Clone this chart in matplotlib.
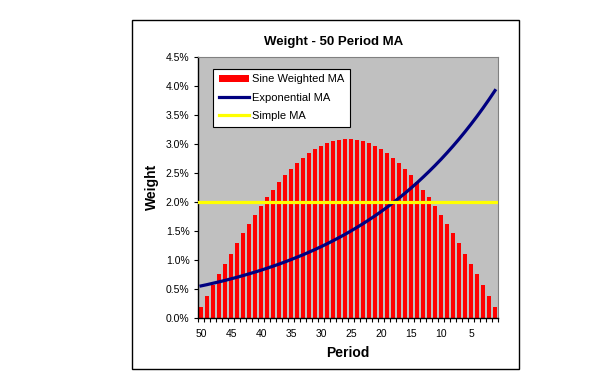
import numpy as np
import matplotlib
matplotlib.use('Agg')
import matplotlib.pyplot as plt
from matplotlib.patches import Rectangle
from matplotlib.ticker import FixedLocator, FuncFormatter

plt.rcParams['font.family'] = ['Liberation Sans', 'DejaVu Sans']

# periods, oldest (50) on the left, most recent (1) on the right
periods = list(range(50, 0, -1))

# weights in percent, listed from period 50 down to period 1
sine_half = [0.19, 0.38, 0.57, 0.75, 0.93, 1.11, 1.29, 1.46, 1.62, 1.78,
             1.93, 2.08, 2.21, 2.34, 2.46, 2.57, 2.67, 2.76, 2.84, 2.91,
             2.96, 3.01, 3.05, 3.07, 3.08]
sine_wma = sine_half + sine_half[::-1]

ema = [0.553, 0.575, 0.599, 0.623, 0.648, 0.675, 0.702, 0.731, 0.761, 0.792,
       0.824, 0.858, 0.893, 0.929, 0.967, 1.007, 1.048, 1.090, 1.135, 1.181,
       1.229, 1.279, 1.332, 1.386, 1.442, 1.501, 1.563, 1.626, 1.693, 1.762,
       1.834, 1.909, 1.987, 2.068, 2.152, 2.240, 2.331, 2.427, 2.526, 2.629,
       2.736, 2.848, 2.964, 3.085, 3.211, 3.342, 3.478, 3.620, 3.768, 3.922]

sma_level = 2.0

yticks = [0.0, 0.5, 1.0, 1.5, 2.0, 2.5, 3.0, 3.5, 4.0, 4.5]
xtick_labels = [50, 45, 40, 35, 30, 25, 20, 15, 10, 5]

fig = plt.figure(figsize=(6.0, 3.76), dpi=100)

# chart frame
fig.patches.append(Rectangle((0.22, 0.0186), 0.645, 0.928, transform=fig.transFigure,
                             fill=False, edgecolor='black', linewidth=1.0, zorder=0))

ax = fig.add_axes([0.33, 0.1543, 0.50, 0.694])
ax.set_facecolor('#C0C0C0')

x = np.arange(len(periods))
bars = ax.bar(x, sine_wma, width=0.55, color='#FF0000', zorder=2)
ema_line, = ax.plot(x, ema, color='#000080', linewidth=2.3, zorder=3)
sma_line, = ax.plot([-0.5, len(periods) - 0.5], [sma_level, sma_level], color='#FFFF00',
                    linewidth=2.3, zorder=4)

ax.set_xlim(-0.5, len(periods) - 0.5)
ax.set_ylim(0, 4.5)

ax.set_yticks(yticks)
ax.yaxis.set_major_formatter(FuncFormatter(lambda v, p: f'{v:.1f}%'))

# labels centred on bars, tick marks between the bars
lab_pos = [periods.index(p) for p in xtick_labels]
ax.set_xticks(lab_pos)
ax.set_xticklabels([str(p) for p in xtick_labels])
ax.xaxis.set_minor_locator(FixedLocator(np.arange(-0.5, len(periods), 1.0)))
ax.tick_params(axis='x', which='major', length=0, pad=8, labelsize=7.5, colors='black')
ax.tick_params(axis='x', which='minor', length=3, width=0.8, direction='out')
ax.tick_params(axis='y', length=3, width=0.8, direction='out', labelsize=7.5, pad=3)

for s in ['left', 'bottom']:
    ax.spines[s].set_color('black')
    ax.spines[s].set_linewidth(1.0)
for s in ['top', 'right']:
    ax.spines[s].set_color('#808080')
    ax.spines[s].set_linewidth(0.8)

leg = ax.legend([bars, ema_line, sma_line], ['Sine Weighted MA', 'Exponential MA', 'Simple MA'],
                loc='upper left', bbox_to_anchor=(0.05, 0.955), fontsize=8, frameon=True,
                fancybox=False, edgecolor='black', facecolor='white', framealpha=1,
                borderpad=0.5, labelspacing=0.75, handlelength=2.7, handletextpad=0.3,
                borderaxespad=0)
leg.get_frame().set_linewidth(0.8)

fig.text(0.556, 0.888, 'Weight - 50 Period MA', ha='center', va='center',
         fontsize=9.5, fontweight='bold')
fig.text(0.253, 0.503, 'Weight', ha='center', va='center', rotation=90,
         fontsize=10, fontweight='bold')
fig.text(0.58, 0.061, 'Period', ha='center', va='center',
         fontsize=10, fontweight='bold')

fig.savefig('out.png', dpi=100)
